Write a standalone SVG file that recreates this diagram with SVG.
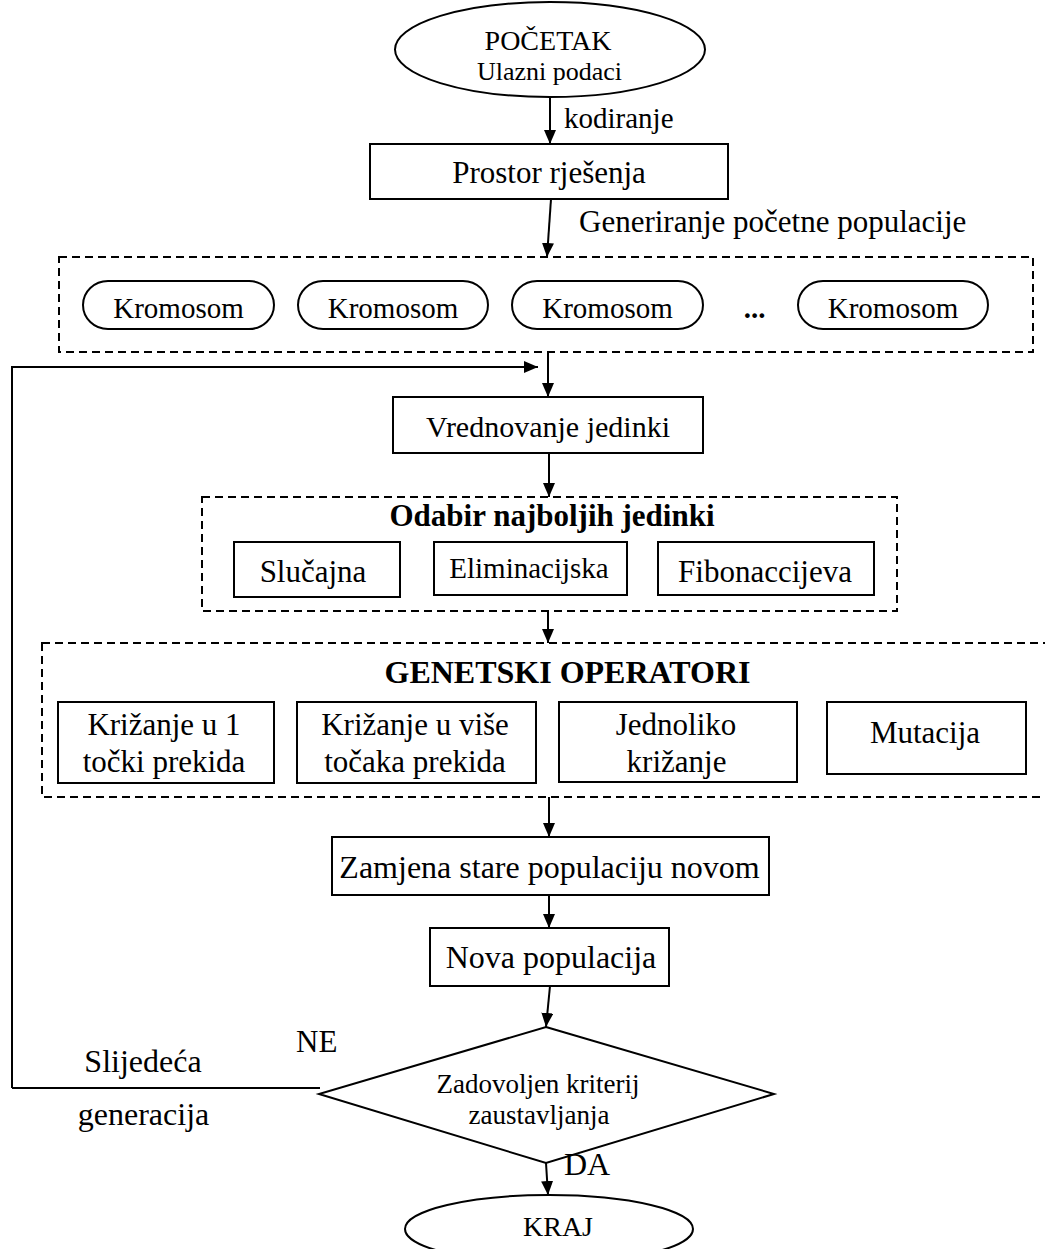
<svg xmlns="http://www.w3.org/2000/svg" width="1045" height="1249" viewBox="0 0 1045 1249">
<defs>
<marker id="arr" markerUnits="userSpaceOnUse" markerWidth="14" markerHeight="12" refX="14" refY="6" orient="auto">
<path d="M0,0 L14,6 L0,12 z" fill="#000"/>
</marker>
<style>
text{font-family:"Liberation Serif","Times New Roman",serif;fill:#000;}
.c{text-anchor:middle;}
.b{font-weight:bold;}
.box{fill:#fff;stroke:#000;stroke-width:2;}
.dash{fill:none;stroke:#000;stroke-width:2;stroke-dasharray:8 5;}
.ln{fill:none;stroke:#000;stroke-width:2;}
.ar{fill:none;stroke:#000;stroke-width:2;marker-end:url(#arr);}
</style>
</defs>
<rect width="1045" height="1249" fill="#fff"/>

<g id="connectors">
<line class="ar" x1="550" y1="97" x2="550" y2="144"/>
<line class="ar" x1="551" y1="199" x2="547" y2="257"/>
<line class="ar" x1="548" y1="352" x2="548" y2="397"/>
<polyline class="ar" points="12,1088 12,367 538,367"/>
<line class="ln" x1="12" y1="1088" x2="320" y2="1088"/>
<line class="ar" x1="549" y1="453" x2="549" y2="497"/>
<line class="ar" x1="548" y1="611" x2="548" y2="643"/>
<line class="ar" x1="549" y1="797" x2="549" y2="837"/>
<line class="ar" x1="549" y1="895" x2="549" y2="928"/>
<line class="ar" x1="550" y1="986" x2="546" y2="1027"/>
<line class="ar" x1="546" y1="1163" x2="548" y2="1195"/>
</g>

<g id="start">
<ellipse class="box" cx="550" cy="49.5" rx="155" ry="47.5"/>
<text class="c" x="548" y="50" font-size="28">POČETAK</text>
<text class="c" x="549.5" y="80" font-size="26">Ulazni podaci</text>
</g>
<text x="564" y="128" font-size="29">kodiranje</text>

<g id="prostor">
<rect class="box" x="370" y="144" width="358" height="55"/>
<text class="c" x="549" y="183" font-size="31">Prostor rješenja</text>
</g>
<text x="579" y="232" font-size="31">Generiranje početne populacije</text>

<g id="populacija">
<rect class="dash" x="59" y="257" width="974" height="95"/>
<g id="krom1"><rect class="box" x="83" y="281" width="191" height="48" rx="25" ry="24"/><text class="c" x="178.5" y="318" font-size="29">Kromosom</text></g>
<g id="krom2"><rect class="box" x="298" y="281" width="190" height="48" rx="25" ry="24"/><text class="c" x="393" y="318" font-size="29">Kromosom</text></g>
<g id="krom3"><rect class="box" x="512" y="281" width="191" height="48" rx="25" ry="24"/><text class="c" x="607.5" y="318" font-size="29">Kromosom</text></g>
<text class="c b" x="754.5" y="318" font-size="29">...</text>
<g id="krom4"><rect class="box" x="798" y="281" width="190" height="48" rx="25" ry="24"/><text class="c" x="893" y="318" font-size="29">Kromosom</text></g>
</g>

<g id="vrednovanje">
<rect class="box" x="393" y="397" width="310" height="56"/>
<text class="c" x="548" y="437" font-size="30">Vrednovanje jedinki</text>
</g>

<g id="odabir">
<rect class="dash" x="202" y="497" width="695" height="114"/>
<text class="c b" x="552" y="526" font-size="31">Odabir najboljih jedinki</text>
<g id="slucajna"><rect class="box" x="234" y="542" width="166" height="55"/><text class="c" x="313" y="582" font-size="31">Slučajna</text></g>
<g id="eliminacijska"><rect class="box" x="434" y="542" width="193" height="53"/><text class="c" x="529" y="578" font-size="29">Eliminacijska</text></g>
<g id="fibonaccijeva"><rect class="box" x="658" y="542" width="216" height="53"/><text class="c" x="765" y="582" font-size="31">Fibonaccijeva</text></g>
</g>

<g id="operatori">
<rect class="dash" x="42" y="643" width="1020" height="154"/>
<text class="c b" x="567.5" y="683" font-size="32">GENETSKI OPERATORI</text>
<g id="op1"><rect class="box" x="58" y="702" width="216" height="81"/><text class="c" x="164" y="735" font-size="31">Križanje u 1</text><text class="c" x="164" y="772" font-size="31">točki prekida</text></g>
<g id="op2"><rect class="box" x="297" y="702" width="239" height="81"/><text class="c" x="415" y="735" font-size="31">Križanje u više</text><text class="c" x="415" y="772" font-size="31">točaka prekida</text></g>
<g id="op3"><rect class="box" x="559" y="702" width="238" height="80"/><text class="c" x="676" y="735" font-size="31">Jednoliko</text><text class="c" x="676.5" y="772" font-size="31">križanje</text></g>
<g id="op4"><rect class="box" x="827" y="702" width="199" height="72"/><text class="c" x="925" y="743" font-size="31">Mutacija</text></g>
</g>

<g id="zamjena">
<rect class="box" x="332" y="837" width="437" height="58"/>
<text class="c" x="549.5" y="878" font-size="32">Zamjena stare populaciju novom</text>
</g>

<g id="nova">
<rect class="box" x="430" y="928" width="239" height="58"/>
<text class="c" x="551" y="968" font-size="32">Nova populacija</text>
</g>

<g id="kriterij">
<polygon class="box" points="546,1027 774,1094 546,1163 319,1094"/>
<text class="c" x="538" y="1093" font-size="27">Zadovoljen kriterij</text>
<text class="c" x="539" y="1124" font-size="27">zaustavljanja</text>
</g>

<text x="296" y="1052" font-size="31">NE</text>
<text class="c" x="143" y="1072" font-size="32">Slijedeća</text>
<text class="c" x="143.5" y="1125" font-size="32">generacija</text>
<text x="564" y="1175" font-size="32">DA</text>

<g id="kraj">
<ellipse class="box" cx="549" cy="1229" rx="144" ry="34"/>
<text class="c" x="558" y="1236" font-size="28">KRAJ</text>
</g>
</svg>
